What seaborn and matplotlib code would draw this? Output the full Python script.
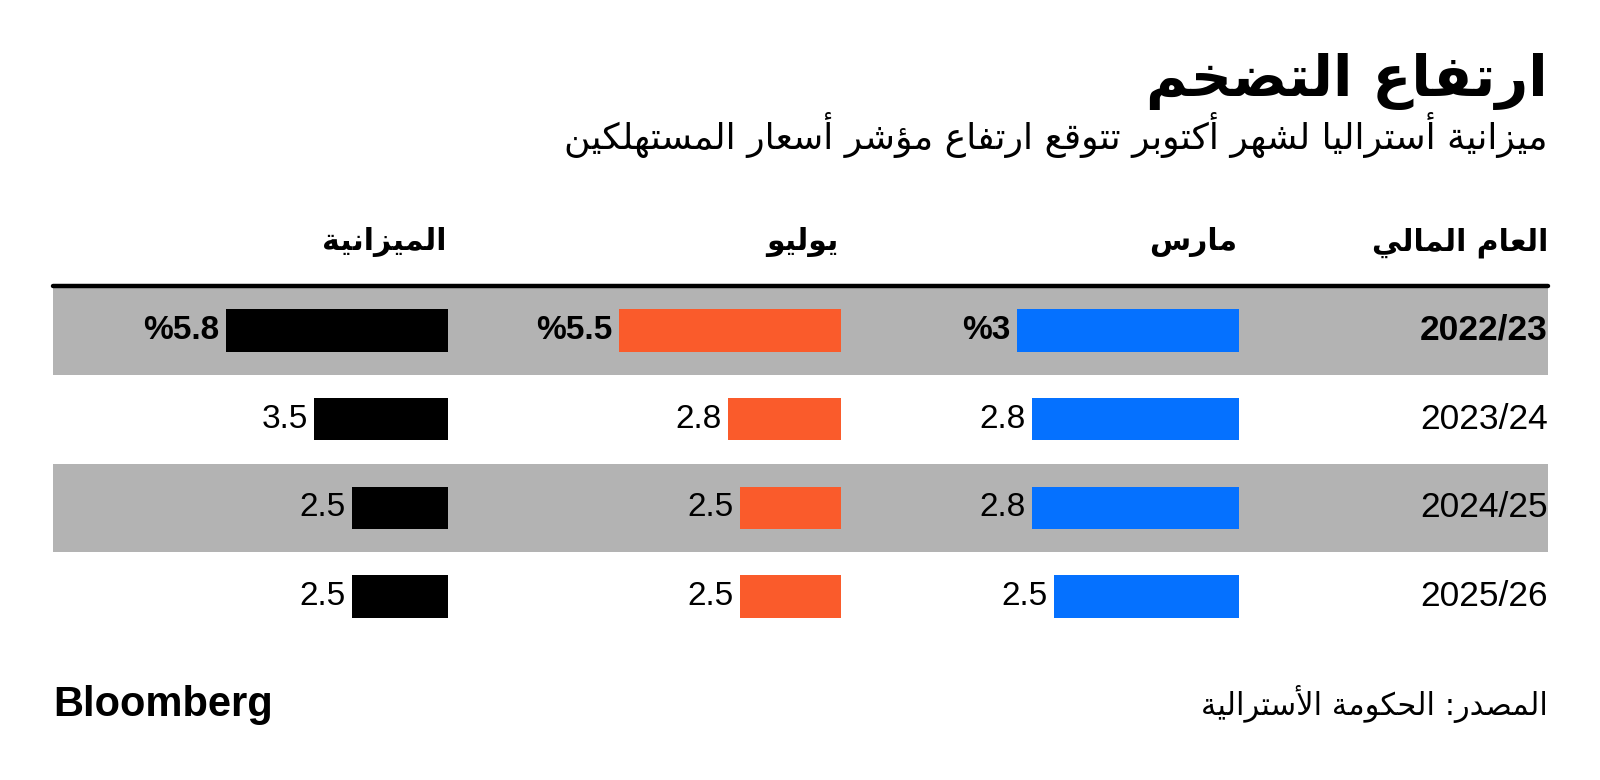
import matplotlib
matplotlib.use("Agg")
import matplotlib.pyplot as plt
import seaborn as sns
import pandas as pd

# ---------------- data ----------------
years = ["2022/23", "2023/24", "2024/25", "2025/26"]
march = [3.0, 2.8, 2.8, 2.5]
july = [5.5, 2.8, 2.5, 2.5]
budget = [5.8, 3.5, 2.5, 2.5]
col_names = ["مارس", "يوليو", "الميزانية"]
year_header = "العام المالي"
title = "ارتفاع التضخم"
subtitle = "ميزانية أستراليا لشهر أكتوبر تتوقع ارتفاع مؤشر أسعار المستهلكين"
source = "المصدر: الحكومة الأسترالية"
brand = "Bloomberg"

# ---------------- minimal Arabic shaping (logical -> visual) ----------------
DUAL = {0x0626: 0xFE89, 0x0628: 0xFE8F, 0x062A: 0xFE95, 0x062B: 0xFE99, 0x062C: 0xFE9D,
        0x062D: 0xFEA1, 0x062E: 0xFEA5, 0x0633: 0xFEB1, 0x0634: 0xFEB5, 0x0635: 0xFEB9,
        0x0636: 0xFEBD, 0x0637: 0xFEC1, 0x0638: 0xFEC5, 0x0639: 0xFEC9, 0x063A: 0xFECD,
        0x0641: 0xFED1, 0x0642: 0xFED5, 0x0643: 0xFED9, 0x0644: 0xFEDD, 0x0645: 0xFEE1,
        0x0646: 0xFEE5, 0x0647: 0xFEE9, 0x064A: 0xFEF1}
RIGHT = {0x0622: 0xFE81, 0x0623: 0xFE83, 0x0624: 0xFE85, 0x0625: 0xFE87, 0x0627: 0xFE8D,
         0x0629: 0xFE93, 0x062F: 0xFEA9, 0x0630: 0xFEAB, 0x0631: 0xFEAD, 0x0632: 0xFEAF,
         0x0648: 0xFEED, 0x0649: 0xFEEF}
NONJ = {0x0621: 0xFE80}
LAMALEF = {0x0622: 0xFEF5, 0x0623: 0xFEF7, 0x0625: 0xFEF9, 0x0627: 0xFEFB}


def shape_ar(s):
    toks = []
    i = 0
    while i < len(s):
        c = ord(s[i])
        if c == 0x0644 and i + 1 < len(s) and ord(s[i + 1]) in LAMALEF:
            toks.append(("LA", ord(s[i + 1])))
            i += 2
        else:
            toks.append(c)
            i += 1

    def jl(t):
        return isinstance(t, int) and t in DUAL

    def jr(t):
        return isinstance(t, tuple) or (isinstance(t, int) and (t in DUAL or t in RIGHT))

    out = []
    for k, t in enumerate(toks):
        prev = toks[k - 1] if k > 0 else None
        nxt = toks[k + 1] if k + 1 < len(toks) else None
        jp = prev is not None and jl(prev) and jr(t)
        jn = nxt is not None and jl(t) and jr(nxt)
        if isinstance(t, tuple):
            out.append(chr(LAMALEF[t[1]] + (1 if jp else 0)))
        elif t in DUAL:
            out.append(chr(DUAL[t] + (1 if jp else 0) + (2 if jn else 0)))
        elif t in RIGHT:
            out.append(chr(RIGHT[t] + (1 if jp else 0)))
        elif t in NONJ:
            out.append(chr(NONJ[t]))
        else:
            out.append(chr(t))
    return "".join(out)[::-1]


# ---------------- style ----------------
sns.set_theme(style="white")
plt.rcParams["font.family"] = ["Liberation Sans", "DejaVu Sans"]
plt.rcParams["text.color"] = "black"
AR = ["DejaVu Sans"]

W, H = 1600, 780
fig = plt.figure(figsize=(W / 100, H / 100), dpi=100)
fig.patch.set_facecolor("white")


def fx(px):
    return px / W


def fy(py):
    return 1 - py / H


GRAY = "#b3b3b3"
BLUE = "#0571ff"
ORANGE = "#fa5b2b"
BLACK = "#000000"

# table geometry (pixels)
LEFT, RIGHTX = 53, 1548
TOP, BOTTOM = 286, 641

# background axes with row bands and year labels
bg = fig.add_axes([fx(LEFT), fy(BOTTOM), fx(RIGHTX - LEFT), (BOTTOM - TOP) / H])
bg.set_xlim(0, 1)
bg.set_ylim(len(years) - 0.5, -0.5)
bg.axis("off")
for i in range(len(years)):
    if i % 2 == 0:
        bg.axhspan(i - 0.5, i + 0.5, color=GRAY, lw=0, zorder=0)
bg.axhline(-0.5, color="black", lw=3.2, zorder=3, clip_on=False)
for i, yr in enumerate(years):
    bg.text(1, i, yr, ha="right", va="center", fontsize=25.5,
            fontweight="bold" if i == 0 else "normal", color="black")

# columns of bars
series = [march, july, budget]
colors = [BLUE, ORANGE, BLACK]
rights = [1239, 841, 448]
COLW = 380
MAXBAR = 222
for vals, col, R, name in zip(series, colors, rights, col_names):
    ax = fig.add_axes([fx(R - COLW), fy(BOTTOM), fx(COLW), (BOTTOM - TOP) / H])
    ax.patch.set_alpha(0)
    df = pd.DataFrame({"year": years, "value": vals})
    sns.barplot(data=df, x="value", y="year", orient="h", color=col, saturation=1,
                width=0.48, linewidth=0, ax=ax)
    vmax = max(vals)
    ax.set_xlim(vmax * COLW / MAXBAR, 0)
    ax.set_ylim(len(years) - 0.5, -0.5)
    ax.axis("off")
    for i, v in enumerate(vals):
        txt = f"{v:g}"
        if i == 0:
            txt = "%" + txt
        ax.annotate(txt, (v, i), xytext=(-4.5, 0), textcoords="offset points",
                    ha="right", va="center", fontsize=24,
                    fontweight="bold" if i == 0 else "normal", color="black")
    fig.text(fx(R - 2), fy(250), shape_ar(name), ha="right", va="baseline",
             fontsize=21.5, fontweight="bold", family=AR, color="black")

fig.text(fx(1548), fy(250), shape_ar(year_header), ha="right", va="baseline",
         fontsize=21.5, fontweight="bold", family=AR, color="black")

# title & subtitle
fig.text(fx(1548), fy(96), shape_ar(title), ha="right", va="baseline",
         fontsize=41, fontweight="bold", family=AR, color="black")
fig.text(fx(1548), fy(149), shape_ar(subtitle), ha="right", va="baseline",
         fontsize=26, family=AR, color="black")

# footer
fig.text(fx(53), fy(716), brand, ha="left", va="baseline", fontsize=30,
         fontweight="bold", color="black")
fig.text(fx(1548), fy(715), shape_ar(source), ha="right", va="baseline",
         fontsize=22, family=AR, color="black")

fig.savefig("out.png", dpi=100, facecolor="white")
